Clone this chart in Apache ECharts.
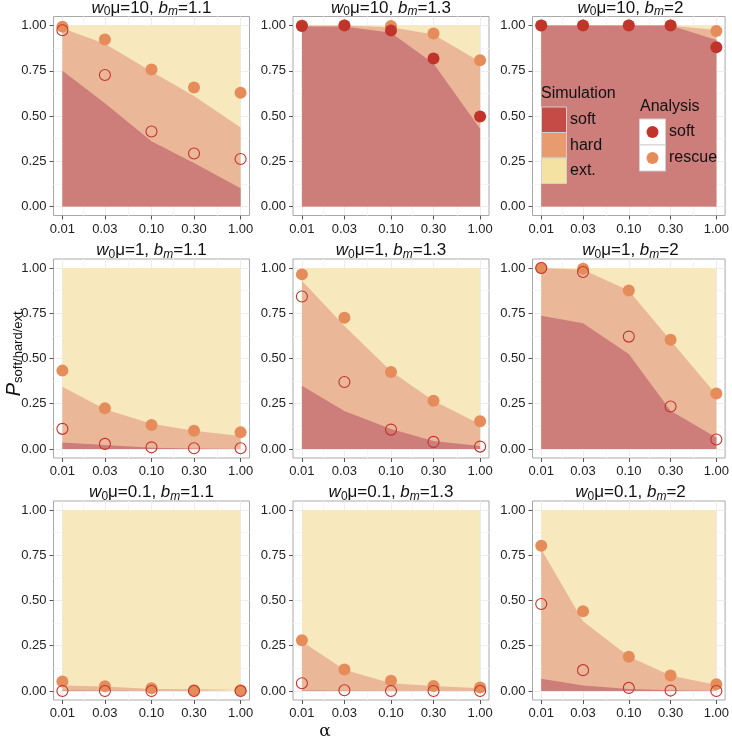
<!DOCTYPE html>
<html><head><meta charset="utf-8">
<script src="https://cdn.jsdelivr.net/npm/echarts@6/dist/echarts.min.js"></script>
<style>html,body{margin:0;padding:0;background:#fff}#c{width:732px;height:741px}</style>
</head><body><div id="c"></div>
<script>
// ---- data ----
const alpha = [0.01, 0.03, 0.1, 0.3, 1];
const xTickLabels = ['0.01', '0.03', '0.10', '0.30', '1.00'];
const yTicks = [0, 0.25, 0.5, 0.75, 1];
const yTickLabels = ['0.00', '0.25', '0.50', '0.75', '1.00'];
const w0mu = ['10', '10', '10', '1', '1', '1', '0.1', '0.1', '0.1'];
const bm = ['1.1', '1.3', '2', '1.1', '1.3', '2', '1.1', '1.3', '2'];
// simulation: probability of soft sweep
const simSoft = [
  [0.75, 0.57, 0.36, 0.24, 0.10],
  [0.995, 0.995, 0.96, 0.79, 0.43],
  [1.0, 1.0, 1.0, 1.0, 0.92],
  [0.035, 0.022, 0.007, 0.003, 0.002],
  [0.35, 0.21, 0.11, 0.044, 0.017],
  [0.736, 0.695, 0.525, 0.211, 0.063],
  [0.003, 0.001, 0.0, 0.0, 0.0],
  [0.002, 0.001, 0.0, 0.0, 0.0],
  [0.067, 0.03, 0.011, 0.004, 0.002]
];
// simulation: probability of hard sweep
const simHard = [
  [0.235, 0.33, 0.386, 0.37, 0.336],
  [0.005, 0.005, 0.03, 0.16, 0.37],
  [0.0, 0.0, 0.0, 0.0, 0.055],
  [0.309, 0.198, 0.133, 0.097, 0.07],
  [0.58, 0.47, 0.32, 0.222, 0.12],
  [0.264, 0.295, 0.351, 0.389, 0.237],
  [0.027, 0.023, 0.011, 0.009, 0.007],
  [0.272, 0.116, 0.043, 0.028, 0.015],
  [0.716, 0.355, 0.179, 0.081, 0.031]
];
// analysis: rescue probability
const anaRescue = [
  [0.994, 0.923, 0.757, 0.657, 0.628],
  [1.0, 1.0, 0.998, 0.956, 0.808],
  [1.0, 1.0, 1.0, 1.0, 0.97],
  [0.433, 0.225, 0.133, 0.10, 0.092],
  [0.965, 0.725, 0.425, 0.266, 0.153],
  [1.0, 0.996, 0.876, 0.603, 0.307],
  [0.052, 0.026, 0.015, 0.004, 0.004],
  [0.28, 0.118, 0.056, 0.028, 0.019],
  [0.802, 0.441, 0.189, 0.085, 0.037]
];
// analysis: soft sweep probability
const anaSoft = [
  [0.974, 0.727, 0.414, 0.293, 0.262],
  [0.998, 1.0, 0.972, 0.818, 0.497],
  [1.0, 1.0, 1.0, 1.0, 0.88],
  [0.111, 0.028, 0.009, 0.004, 0.004],
  [0.843, 0.37, 0.107, 0.039, 0.013],
  [1.0, 0.978, 0.621, 0.235, 0.052],
  [0.0, 0.0, 0.0, 0.0, 0.0],
  [0.043, 0.004, 0.0, 0.0, 0.0],
  [0.481, 0.115, 0.017, 0.002, 0.0]
];
const softFilled = [false, true, true, false, false, false, false, false, false];

// ---- style / layout ----
const FONT = 'Liberation Sans';
const C = {
  softArea: '#CD7D7A', hardArea: '#EBB799', extArea: '#F7E8BE',
  softKey: '#C54C46', hardKey: '#E89B6E', extKey: '#F4E2A2',
  softPt: '#C0342C', rescuePt: '#E58C5A'
};
const colLeft = [53.5, 293, 532.5];
const rowTop = [16.5, 259, 501];
const PW = 196, PH = 199;
const xTickVals = alpha.map(a => Math.log10(a));
const xMinor = [];
for (let k = 0; k < xTickVals.length - 1; k++) xMinor.push((xTickVals[k] + xTickVals[k + 1]) / 2);
const yMinor = [0.125, 0.375, 0.625, 0.875];
const XMIN = -2.1, XMAX = 0.1, YMIN = -0.05, YMAX = 1.05;

const grids = [], xAxes = [], yAxes = [], series = [], graphics = [];
const labelStyle = {fontFamily: FONT, fontSize: 13, color: '#222'};

for (let i = 0; i < 9; i++) {
  const r = Math.floor(i / 3), c = i % 3;
  grids.push({left: colLeft[c], top: rowTop[r], width: PW, height: PH,
    show: true, borderColor: '#a9a9a9', borderWidth: 1, backgroundColor: 'transparent', containLabel: false});
}
// major axes 0..8
for (let i = 0; i < 9; i++) {
  xAxes.push({type: 'value', gridIndex: i, min: XMIN, max: XMAX, position: 'bottom',
    axisLine: {show: false, onZero: false},
    axisTick: {show: true, customValues: xTickVals, length: 4, lineStyle: {color: '#555'}},
    axisLabel: {show: true, customValues: xTickVals, margin: 7, ...labelStyle,
      formatter: v => { let best = 0; xTickVals.forEach((t, k) => { if (Math.abs(t - v) < Math.abs(xTickVals[best] - v)) best = k; }); return xTickLabels[best]; }},
    splitLine: {show: true, lineStyle: {color: '#ededed', width: 1}}, z: 1});
  yAxes.push({type: 'value', gridIndex: i, min: YMIN, max: YMAX, position: 'left',
    axisLine: {show: false, onZero: false},
    axisTick: {show: true, customValues: yTicks, length: 4, lineStyle: {color: '#555'}},
    axisLabel: {show: true, customValues: yTicks, margin: 7, ...labelStyle,
      formatter: v => { let best = 0; yTicks.forEach((t, k) => { if (Math.abs(t - v) < Math.abs(yTicks[best] - v)) best = k; }); return yTickLabels[best]; }},
    splitLine: {show: true, lineStyle: {color: '#ededed', width: 1}}, z: 1});
}
// minor grid axes 9..17
for (let i = 0; i < 9; i++) {
  xAxes.push({type: 'value', gridIndex: i, min: XMIN, max: XMAX, position: 'bottom', axisLine: {show: false, onZero: false},
    axisTick: {show: false, customValues: xMinor}, axisLabel: {show: false, customValues: xMinor},
    splitLine: {show: true, lineStyle: {color: '#f5f5f5', width: 1}}, z: 0});
  yAxes.push({type: 'value', gridIndex: i, min: YMIN, max: YMAX, position: 'left', axisLine: {show: false, onZero: false},
    axisTick: {show: false, customValues: yMinor}, axisLabel: {show: false, customValues: yMinor},
    splitLine: {show: true, lineStyle: {color: '#f5f5f5', width: 1}}, z: 0});
}

for (let i = 0; i < 9; i++) {
  // cumulative boundaries of the simulation outcome bands (soft | hard | ext.)
  const softTop = simSoft[i];
  const hardTop = simSoft[i].map((s, j) => s + simHard[i][j]);
  const extTop = alpha.map(() => 1);
  const bands = [['ext.', extTop, C.extArea, 2], ['hard', hardTop, C.hardArea, 3], ['soft', softTop, C.softArea, 4]];
  bands.forEach(([nm, vals, col, zz]) => {
    series.push({type: 'line', name: nm, xAxisIndex: i, yAxisIndex: i,
      symbol: 'none', silent: true, lineStyle: {width: 0, opacity: 0},
      areaStyle: {color: col, opacity: 1, origin: 0}, z: zz,
      data: alpha.map((a, j) => [Math.log10(a), vals[j]])});
  });
  series.push({type: 'scatter', name: 'rescue', xAxisIndex: i, yAxisIndex: i, symbolSize: 12,
    silent: true, itemStyle: {color: C.rescuePt, opacity: 1}, z: 5, clip: false,
    data: alpha.map((a, j) => [Math.log10(a), anaRescue[i][j]])});
  series.push({type: 'scatter', name: 'soft-analysis', xAxisIndex: i, yAxisIndex: i,
    symbolSize: softFilled[i] ? 12 : 11, silent: true, z: 6, clip: false,
    itemStyle: softFilled[i] ? {color: C.softPt, opacity: 1}
      : {color: 'rgba(255,255,255,0)', borderColor: C.softPt, borderWidth: 1.1, opacity: 1},
    data: alpha.map((a, j) => [Math.log10(a), anaSoft[i][j]])});

  // facet title
  const r = Math.floor(i / 3), c = i % 3;
  graphics.push({type: 'text', x: colLeft[c] + PW / 2, y: rowTop[r] - 8.5, z: 10,
    style: {text: '{i|w}{sub|0}μ=' + w0mu[i] + ', {i|b}{subi|m}=' + bm[i],
      align: 'center', verticalAlign: 'middle', fontFamily: FONT, fontSize: 17, fill: '#111',
      rich: {
        i: {fontFamily: FONT, fontSize: 17, fontStyle: 'italic', lineHeight: 20},
        sub: {fontFamily: FONT, fontSize: 12, lineHeight: 12, verticalAlign: 'bottom'},
        subi: {fontFamily: FONT, fontSize: 12, fontStyle: 'italic', lineHeight: 12, verticalAlign: 'bottom'}
      }}});
}

// axis titles
graphics.push({type: 'text', x: 325, y: 732, z: 10,
  style: {text: 'α', align: 'center', verticalAlign: 'middle', fontFamily: 'DejaVu Serif', fontSize: 17, fill: '#111'}});
graphics.push({type: 'text', x: 14, y: 352, rotation: Math.PI / 2, z: 10,
  style: {text: '{p|P}{s|soft/hard/ext.}', align: 'center', verticalAlign: 'middle', fill: '#111',
    rich: {p: {fontFamily: FONT, fontSize: 20, fontStyle: 'italic', lineHeight: 22},
           s: {fontFamily: FONT, fontSize: 13, lineHeight: 13, verticalAlign: 'bottom'}}}});

// legend: Simulation
graphics.push({type: 'text', x: 541, y: 94, z: 10,
  style: {text: 'Simulation', fontFamily: FONT, fontSize: 16, fill: '#111', verticalAlign: 'middle'}});
[['soft', C.softKey, 107], ['hard', C.hardKey, 132.5], ['ext.', C.extKey, 158]].forEach(([t, col, y]) => {
  graphics.push({type: 'rect', z: 10, shape: {x: 541.5, y: y, width: 25, height: 25.5},
    style: {fill: col, stroke: '#d0d0d0', lineWidth: 1}});
  graphics.push({type: 'text', x: 570, y: y + 13, z: 10,
    style: {text: t, fontFamily: FONT, fontSize: 16, fill: '#111', verticalAlign: 'middle'}});
});
// legend: Analysis
graphics.push({type: 'text', x: 640, y: 107, z: 10,
  style: {text: 'Analysis', fontFamily: FONT, fontSize: 16, fill: '#111', verticalAlign: 'middle'}});
[['soft', C.softPt, 119], ['rescue', C.rescuePt, 145]].forEach(([t, col, y]) => {
  graphics.push({type: 'rect', z: 10, shape: {x: 639.5, y: y, width: 26, height: 26},
    style: {fill: '#fff', stroke: '#d0d0d0', lineWidth: 1}});
  graphics.push({type: 'circle', z: 11, shape: {cx: 652.5, cy: y + 13, r: 6}, style: {fill: col}});
  graphics.push({type: 'text', x: 669, y: y + 13, z: 10,
    style: {text: t, fontFamily: FONT, fontSize: 16, fill: '#111', verticalAlign: 'middle'}});
});

const chart = echarts.init(document.getElementById('c'), null, {renderer: 'canvas'});
chart.setOption({
  animation: false,
  backgroundColor: '#fff',
  textStyle: {fontFamily: FONT},
  grid: grids, xAxis: xAxes, yAxis: yAxes, series: series, graphic: graphics
});
</script></body></html>
